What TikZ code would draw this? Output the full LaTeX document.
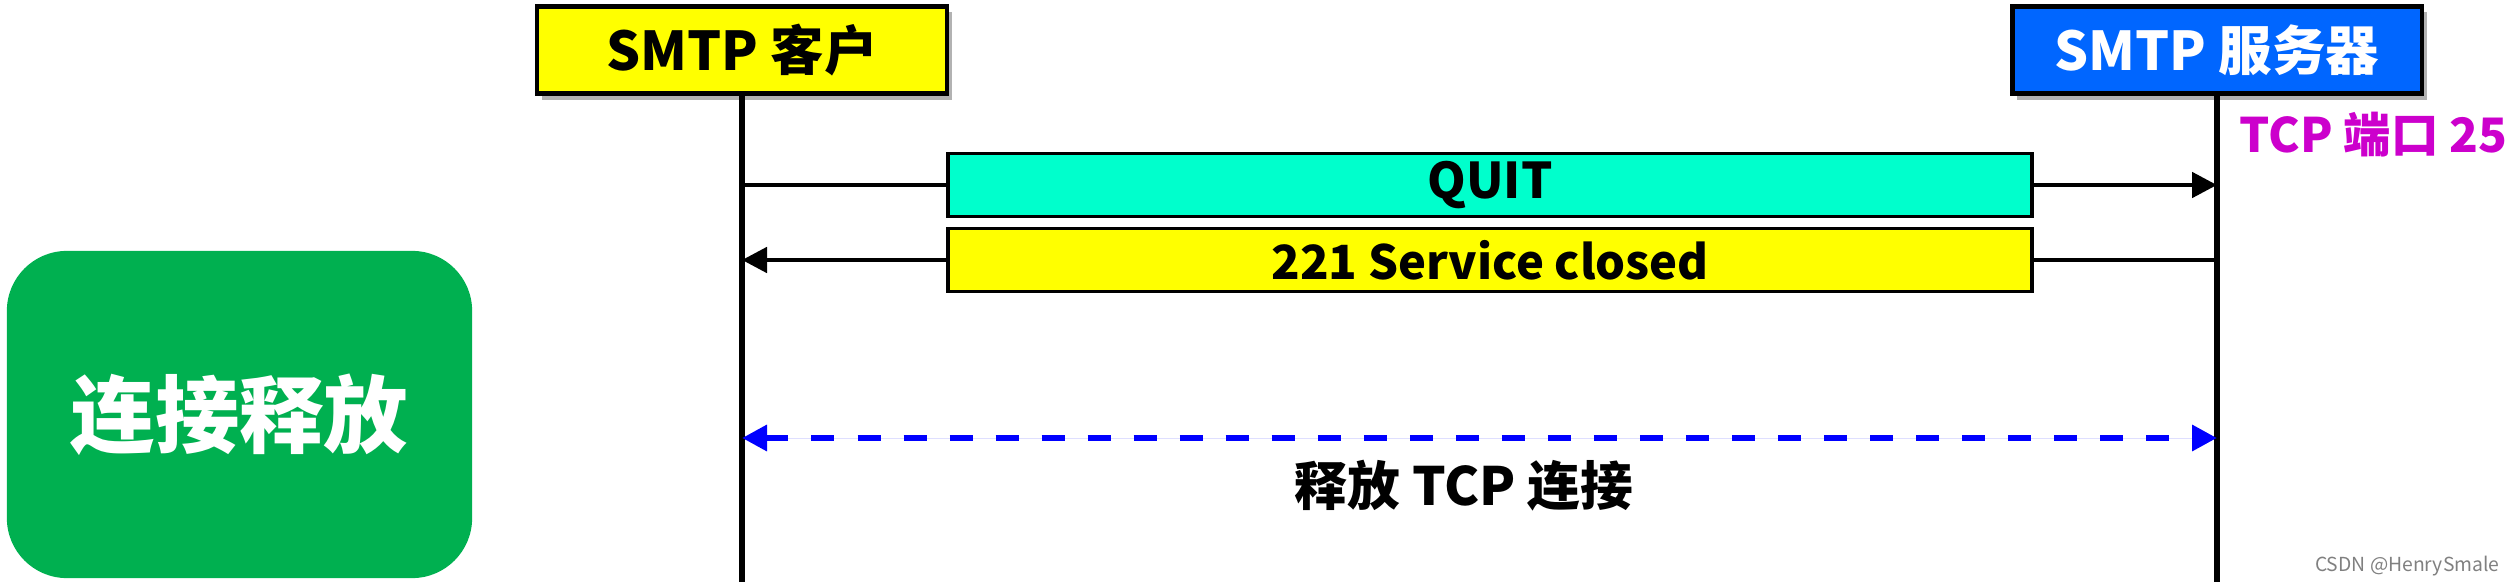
\documentclass[tikz,border=0pt]{standalone}
\usepackage{fontspec}
\setmainfont{Noto Sans CJK SC}
\usetikzlibrary{arrows.meta,positioning,shadows}
\definecolor{cliyellow}{HTML}{FFFF00}
\definecolor{srvblue}{HTML}{0066FF}
\definecolor{quitcyan}{HTML}{00FFCC}
\definecolor{phgreen}{HTML}{00B050}
\definecolor{portmag}{HTML}{CC00CC}
\definecolor{relblue}{HTML}{0000FF}

\begin{document}
\begin{tikzpicture}[x=0.01cm, y=-0.01cm,
  hdr/.style={draw, line width=1.2pt, minimum width=4.09cm, minimum height=0.87cm, inner sep=0pt, font=\fontsize{15.2}{17}\selectfont\bfseries, drop shadow={shadow xshift=0.05cm, shadow yshift=-0.06cm, opacity=0.3, fill=black}},
  msg/.style={draw, line width=1.1pt, minimum width=10.84cm, minimum height=0.63cm, inner sep=0pt, font=\fontsize{14}{16}\selectfont\bfseries},
  phase/.style={fill=phgreen, text=white, rounded corners=0.6cm, minimum width=4.65cm, minimum height=3.27cm, font=\fontsize{24}{27}\selectfont\bfseries},
  life/.style={line width=1.5pt},
  ln/.style={line width=1.4pt},
  arr/.style={-{Triangle[length=2.5mm, width=2.5mm]}, line width=1.4pt},
  rel/.style={{Triangle[length=2.5mm, width=2.5mm]}-{Triangle[length=2.5mm, width=2.5mm]}, line width=1.9pt, dash pattern=on 0.23cm off 0.23cm, draw=relblue, fill=relblue}]
\useasboundingbox (0,0) rectangle (2517,582);
% lifelines
\node[hdr, fill=cliyellow] (cli) at (742,50) {SMTP 客户};
\node[hdr, fill=srvblue, text=white] (srv) at (2217,50) {SMTP 服务器};
\coordinate (cliend) at (742,582);
\coordinate (srvend) at (2217,582);
\draw[life] (cli.south) -- (cliend);
\draw[life] (srv.south) -- (srvend);
\node[anchor=west, text=portmag, font=\fontsize{13.5}{15}\selectfont\bfseries, inner sep=0pt] (port) at (2239,135) {TCP 端口 25};
% phase
\node[phase] (ph) at (239.5,414.5) {连接释放};
% messages
\coordinate (c1) at (742,185);
\coordinate (s1) at (2217,185);
\coordinate (c2) at (742,260);
\coordinate (s2) at (2217,260);
\node[msg, fill=quitcyan] (quit) at (1490,185) {QUIT};
\node[msg, fill=cliyellow, font=\fontsize{13.4}{15}\selectfont\bfseries] (svc) at (1490,260) {221 Service closed};
\draw[ln] (c1) -- (quit);
\draw[arr] (quit) -- (s1);
\draw[ln] (s2) -- (svc);
\draw[arr] (svc) -- (c2);
% release
\coordinate (c3) at (742,438);
\coordinate (s3) at (2217,438);
\draw[rel] (c3) -- (s3);
\node[font=\fontsize{15}{17}\selectfont\bfseries] (reltxt) at (1464,486) {释放 TCP 连接};
\node[anchor=east, text=gray, font=\fontsize{5.5}{6}\selectfont] (wm) at (2512,566) {CSDN @HenrySmale};
\end{tikzpicture}
\end{document}
